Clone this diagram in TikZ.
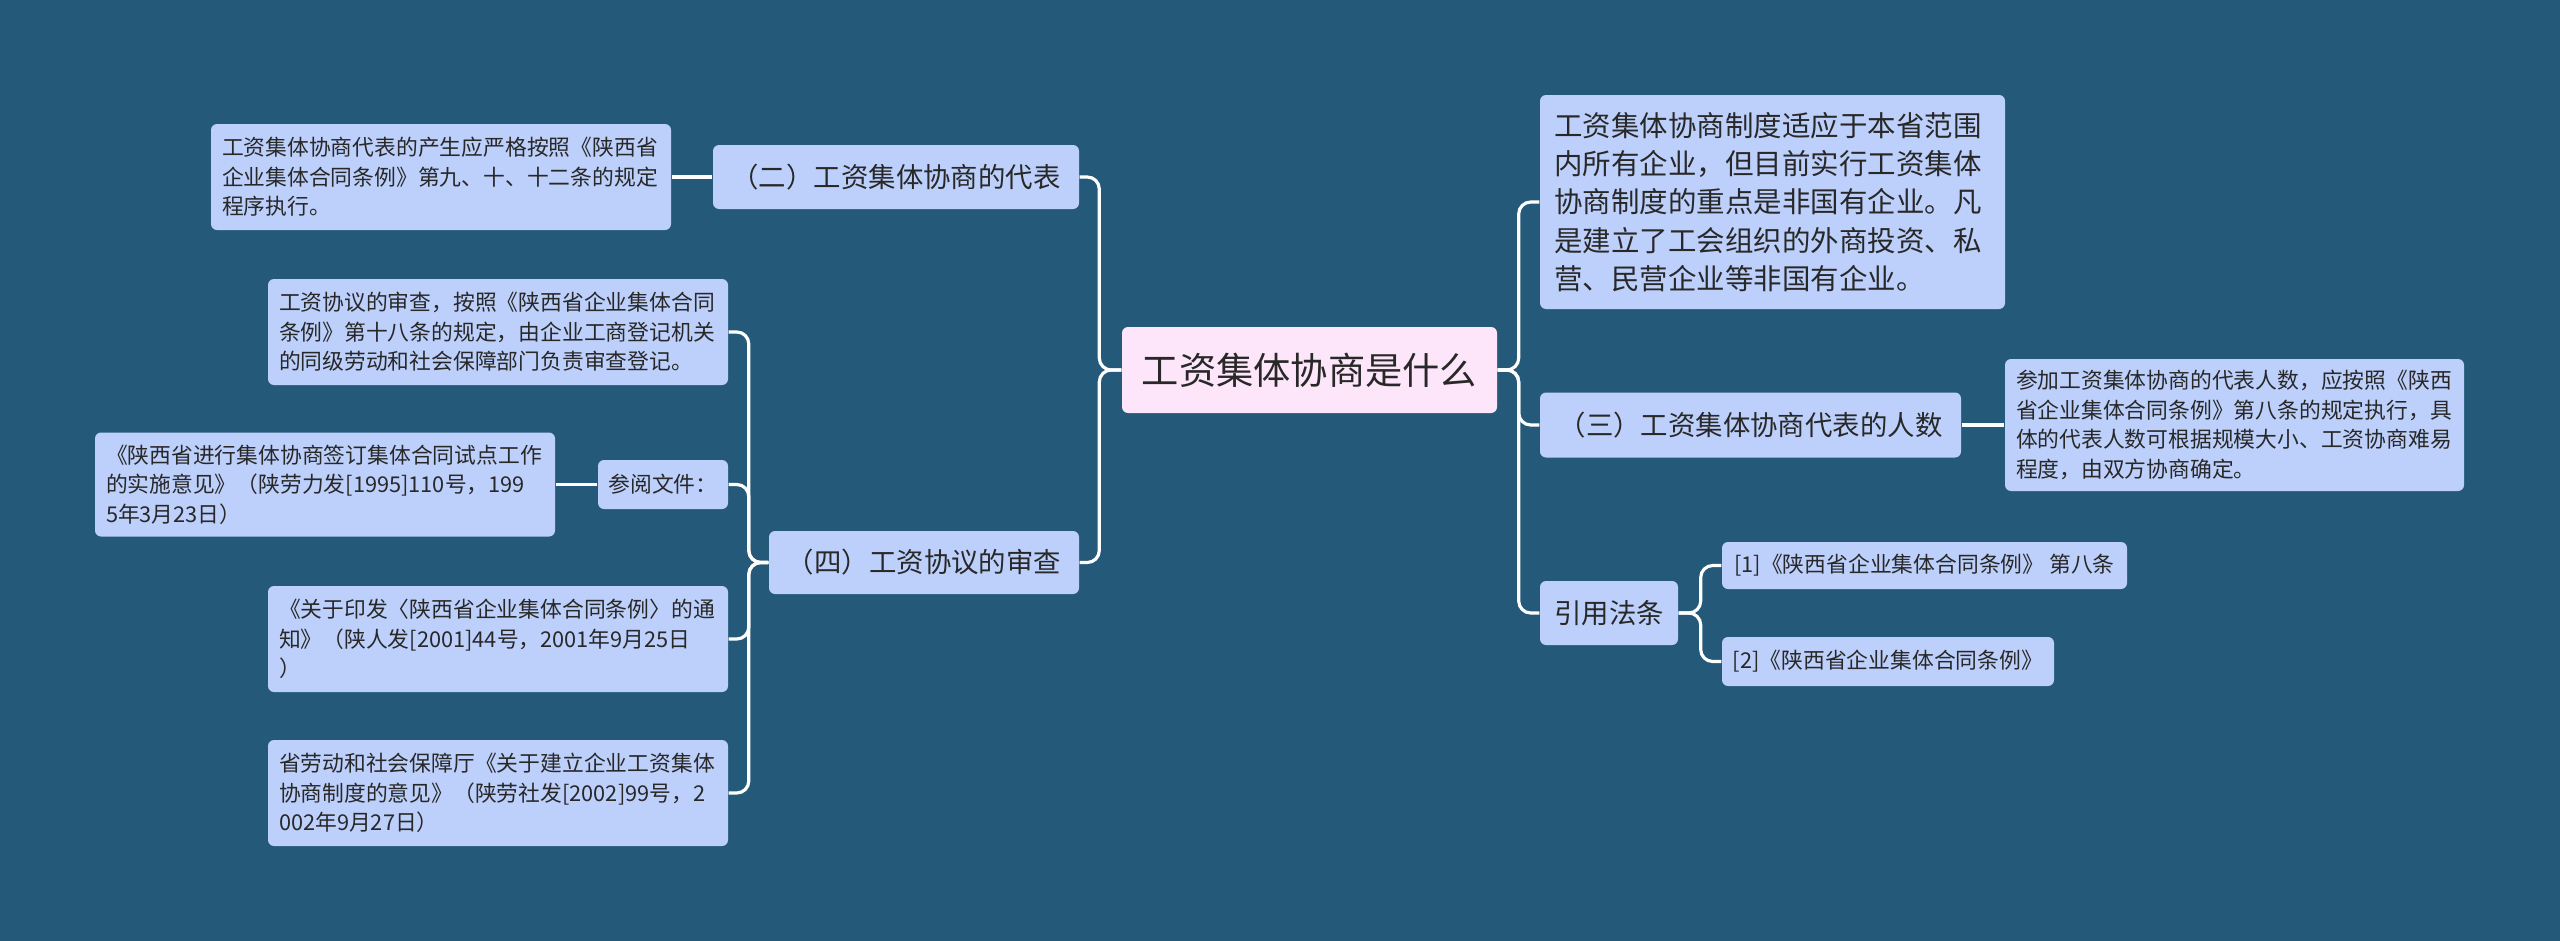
\documentclass[tikz,border=0pt]{standalone}
\usepackage{fontspec}
\usepackage{tikz}
\usepackage{xcolor}
\usetikzlibrary{positioning, calc}
\setmainfont{Noto Sans CJK SC}
\definecolor{bgblue}{RGB}{36,89,122}
\definecolor{nodeblue}{RGB}{189,208,251}
\definecolor{rootpink}{RGB}{253,230,250}
\definecolor{inkgray}{RGB}{40,40,40}

\begin{document}
\begin{tikzpicture}[
    box/.style={fill=nodeblue, rounded corners=0.6mm, text=inkgray, inner sep=0pt},
    rootbox/.style={box, fill=rootpink, font=\fontsize{10.6pt}{13pt}\selectfont},
    branch/.style={box, font=\fontsize{7.8pt}{10pt}\selectfont},
    leaf/.style={box, align=left, inner xsep=1.1mm, text width=4.38cm, minimum height=1.06cm, font=\fontsize{6.2pt}{8.4pt}\selectfont},
    tag/.style={box, font=\fontsize{6.2pt}{8.4pt}\selectfont},
    link/.style={draw=white, line width=0.9pt, rounded corners=1.2mm}]
    \useasboundingbox[fill=bgblue] (0,0) rectangle (25.6,-9.41);

    % centre
    \node[rootbox, minimum width=3.75cm, minimum height=0.86cm] (root) at (13.095,-3.70) {工资集体协商是什么};

    % left side
    \node[branch, minimum width=3.66cm, minimum height=0.64cm] (rep) at (8.96,-1.77) {（二）工资集体协商的代表};
    \node[leaf] (repnote) at (4.41,-1.77) {工资集体协商代表的产生应严格按照《陕西省\\企业集体合同条例》第九、十、十二条的规定\\程序执行。};

    \node[branch, minimum width=3.10cm, minimum height=0.63cm] (check) at (9.24,-5.625) {（四）工资协议的审查};
    \node[leaf] (checknote) at (4.98,-3.32) {工资协议的审查，按照《陕西省企业集体合同\\条例》第十八条的规定，由企业工商登记机关\\的同级劳动和社会保障部门负责审查登记。};
    \node[tag, minimum width=1.30cm, minimum height=0.49cm] (refs) at (6.63,-4.845) {参阅文件：};
    \node[leaf, minimum height=1.04cm] (doca) at (3.25,-4.845) {《陕西省进行集体协商签订集体合同试点工作\\的实施意见》（陕劳力发[1995]110号，199\\5年3月23日）};
    \node[leaf] (docb) at (4.98,-6.39) {《关于印发〈陕西省企业集体合同条例〉的通\\知》（陕人发[2001]44号，2001年9月25日\\）};
    \node[leaf] (docc) at (4.98,-7.93) {省劳动和社会保障厅《关于建立企业工资集体\\协商制度的意见》（陕劳社发[2002]99号，2\\002年9月27日）};

    % right side
    \node[box, align=left, inner xsep=1.45mm, text width=4.36cm, minimum height=2.14cm, font=\fontsize{8.1pt}{10.9pt}\selectfont] (scope) at (17.725,-2.02) {工资集体协商制度适应于本省范围\\内所有企业，但目前实行工资集体\\协商制度的重点是非国有企业。凡\\是建立了工会组织的外商投资、私\\营、民营企业等非国有企业。};
    \node[branch, minimum width=4.21cm, minimum height=0.65cm] (count) at (17.505,-4.25) {（三）工资集体协商代表的人数};
    \node[leaf, text width=4.37cm, minimum height=1.32cm] (countnote) at (22.345,-4.25) {参加工资集体协商的代表人数，应按照《陕西\\省企业集体合同条例》第八条的规定执行，具\\体的代表人数可根据规模大小、工资协商难易\\程度，由双方协商确定。};
    \node[branch, minimum width=1.38cm, minimum height=0.64cm] (cite) at (16.09,-6.13) {引用法条};
    \node[tag, minimum width=4.05cm, minimum height=0.47cm] (citea) at (19.245,-5.655) {[1]《陕西省企业集体合同条例》 第八条};
    \node[tag, minimum width=3.32cm, minimum height=0.49cm] (citeb) at (18.88,-6.615) {[2]《陕西省企业集体合同条例》};

    % connectors
    \draw[link] (root.west) -- ++(-0.22,0) |- (rep.east);
    \draw[link] (root.west) -- ++(-0.22,0) |- (check.east);
    \draw[link] (repnote.east) -- (rep.west);
    \draw[link] (check.west) -- ++(-0.195,0) |- (checknote.east);
    \draw[link] (check.west) -- ++(-0.195,0) |- (refs.east);
    \draw[link] (check.west) -- ++(-0.195,0) |- (docb.east);
    \draw[link] (check.west) -- ++(-0.195,0) |- (docc.east);
    \draw[link] (refs.west) -- (doca.east);
    \draw[link] (root.east) -- ++(0.21,0) |- (scope.west);
    \draw[link] (root.east) -- ++(0.21,0) |- (count.west);
    \draw[link] (root.east) -- ++(0.21,0) |- (cite.west);
    \draw[link] (count.east) -- (countnote.west);
    \draw[link] (cite.east) -- ++(0.22,0) |- (citea.west);
    \draw[link] (cite.east) -- ++(0.22,0) |- (citeb.west);
\end{tikzpicture}
\end{document}
